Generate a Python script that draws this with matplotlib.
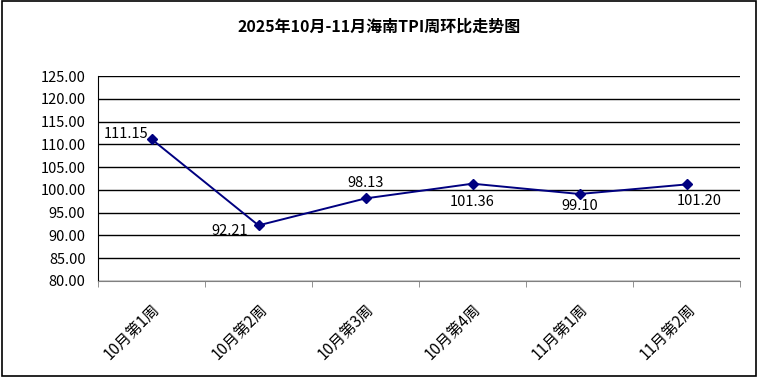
import matplotlib.pyplot as plt
import numpy as np

plt.rcParams['font.family'] = ['Noto Sans CJK SC', 'DejaVu Sans']

weeks = ["10月第1周", "10月第2周", "10月第3周", "10月第4周", "11月第1周", "11月第2周"]
tpi = [111.15, 92.21, 98.13, 101.36, 99.10, 101.20]
yticks = [80, 85, 90, 95, 100, 105, 110, 115, 120, 125]

fig = plt.figure(figsize=(7.58, 3.77), dpi=100)
ax = fig.add_axes([98 / 758, 1 - 281 / 377, 642 / 758, 205 / 377])

# border around the whole chart
fig.patches.append(plt.Rectangle((0.002, 0.003), 0.996, 0.994, transform=fig.transFigure,
                                 fill=False, edgecolor='black', linewidth=1.2))

x = np.arange(len(weeks))
ax.plot(x, tpi, color='#000080', linewidth=1.4, marker='D', markersize=5, zorder=3)

offsets = [(-18, 4), (-21, -4), (0, 11), (0, -13), (0, -9), (9, -12)]
for xi, v, off in zip(x, tpi, offsets):
    ax.annotate(f"{v:.2f}", (xi, v), xytext=off, textcoords='offset points',
                ha='center', va='center', fontsize=10.5, color='black')

ax.set_xlim(-0.5, len(weeks) - 0.5)
ax.set_ylim(80, 125)
ax.set_yticks(yticks)
ax.set_yticklabels([f"{t:.2f}" for t in yticks], fontsize=10.5)
ax.yaxis.grid(True, color='black', linewidth=1)
ax.set_axisbelow(True)

ax.set_xticks(x)
ax.set_xticklabels(weeks, rotation=45, ha='right', va='top', rotation_mode='anchor', fontsize=11)
ax.set_xticks(np.arange(len(weeks) + 1) - 0.5, minor=True)
ax.tick_params(axis='x', which='major', length=0, pad=14)
ax.tick_params(axis='x', which='minor', length=4, color='gray')
ax.tick_params(axis='y', length=0, pad=9)

for side in ['top', 'right']:
    ax.spines[side].set_visible(False)
ax.spines['left'].set_color('black')
ax.spines['bottom'].set_color('gray')

fig.text(0.5, 1 - 27 / 377, "2025年10月-11月海南TPI周环比走势图", ha='center', va='center',
         fontsize=11.5, fontweight='bold')

fig.savefig("out.png", dpi=100)
